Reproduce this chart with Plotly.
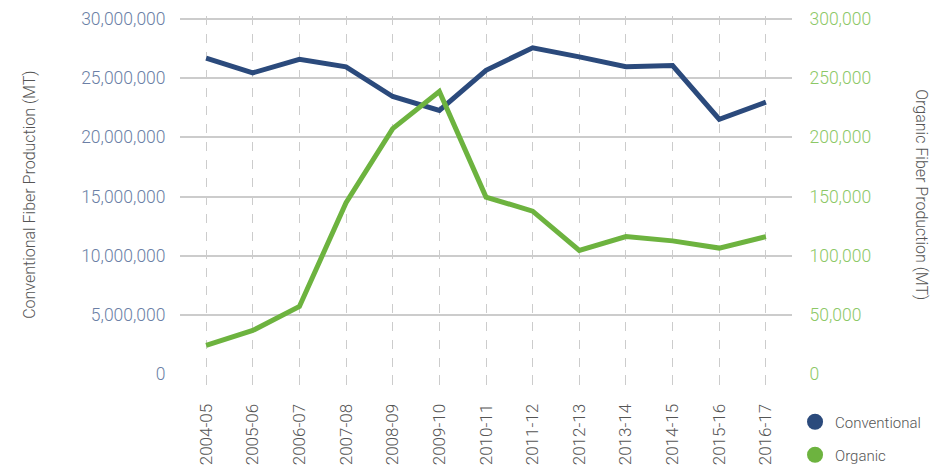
import plotly.graph_objects as go

seasons = ["2004-05", "2005-06", "2006-07", "2007-08", "2008-09", "2009-10", "2010-11",
           "2011-12", "2012-13", "2013-14", "2014-15", "2015-16", "2016-17"]
conventional = [26700000, 25450000, 26600000, 25960000, 23450000, 22280000, 25670000,
                27570000, 26800000, 25960000, 26070000, 21530000, 22970000]
organic = [24200, 36800, 57000, 144800, 207400, 238700, 149500,
           137600, 104400, 116100, 112500, 106400, 116100]

left_ticks = [0, 5000000, 10000000, 15000000, 20000000, 25000000, 30000000]
right_ticks = [0, 50000, 100000, 150000, 200000, 250000, 300000]

FONT = "Roboto, sans-serif"
NAVY = "#2b4a7c"
GREEN = "#6db33f"
GREY_TXT = "#555555"

# small headroom above the top tick so its gridline is kept by the renderer
LEFT_MAX = 30253500
RIGHT_MAX = LEFT_MAX / 100

fig = go.Figure()
fig.add_trace(go.Scatter(x=seasons, y=conventional, mode="lines", name="Conventional",
                         line=dict(color=NAVY, width=5), showlegend=False, yaxis="y"))
fig.add_trace(go.Scatter(x=seasons, y=organic, mode="lines", name="Organic",
                         line=dict(color=GREEN, width=5), showlegend=False, yaxis="y2"))
# legend entries (circle markers)
fig.add_trace(go.Scatter(x=[None], y=[None], mode="markers", name="Conventional",
                         marker=dict(color=NAVY, size=16), showlegend=True, legend="legend"))
fig.add_trace(go.Scatter(x=[None], y=[None], mode="markers", name="Organic",
                         marker=dict(color=GREEN, size=16), showlegend=True, legend="legend2"))

legend_common = dict(xref="container", yref="container", xanchor="left", yanchor="middle",
                     font=dict(family=FONT, size=15, color=GREY_TXT, weight=300),
                     itemsizing="trace", bgcolor="rgba(0,0,0,0)")

# page body has an 8px default margin, so the figure is sized to fill the rest of the window
fig.update_layout(
    width=942, height=465,
    margin=dict(l=172, r=158, t=8, b=99, autoexpand=False),
    plot_bgcolor="white", paper_bgcolor="white",
    font=dict(family=FONT, size=16, color=GREY_TXT, weight=300),
    xaxis=dict(
        type="category", range=[-0.56, 12.56], automargin=False,
        showgrid=True, gridcolor="#cccccc", griddash="dash", gridwidth=1,
        showline=False, zeroline=False,
        ticks="outside", ticklen=10, tickcolor="#cccccc",
        ticklabelstandoff=12,
        tickangle=-90, tickfont=dict(family=FONT, size=17, color=GREY_TXT, weight=300),
    ),
    yaxis=dict(
        range=[0, LEFT_MAX], tickvals=left_ticks, tickformat=",d", automargin=False,
        showgrid=True, gridcolor="#cccccc", gridwidth=1.5,
        zeroline=False, showline=False, ticklabeloverflow="allow",
        ticks="outside", ticklen=10, tickcolor="rgba(0,0,0,0)",
        tickfont=dict(family=FONT, size=17.5, color="#6b7fa6", weight=300),
    ),
    yaxis2=dict(
        range=[0, RIGHT_MAX], tickvals=right_ticks, tickformat=",d", automargin=False,
        overlaying="y", side="right", showgrid=False,
        zeroline=False, showline=False, ticklabeloverflow="allow",
        ticks="outside", ticklen=13, tickcolor="rgba(0,0,0,0)",
        tickfont=dict(family=FONT, size=17.5, color="#8cc866", weight=300),
    ),
    legend=dict(x=0.8355, y=0.1097, **legend_common),
    legend2=dict(x=0.8355, y=0.0387, **legend_common),
    annotations=[
        dict(text="Conventional Fiber Production (MT)", xref="paper", yref="paper",
             x=-0.247, y=0.5, xanchor="center", yanchor="middle", textangle=-90,
             showarrow=False, font=dict(family=FONT, size=16, color=GREY_TXT, weight=300)),
        dict(text="Organic Fiber Production (MT)", xref="paper", yref="paper",
             x=1.212, y=0.5, xanchor="center", yanchor="middle", textangle=90,
             showarrow=False, font=dict(family=FONT, size=16, color=GREY_TXT, weight=300)),
    ],
)

fig.write_html("out.html")
